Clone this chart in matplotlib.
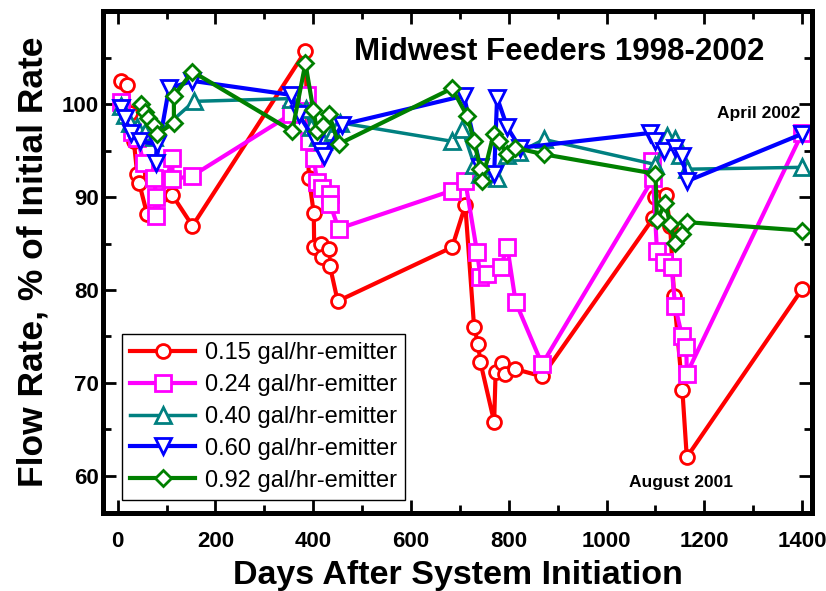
import matplotlib
matplotlib.use('Agg')
import matplotlib.pyplot as plt
from matplotlib.ticker import MultipleLocator

plt.rcParams['font.family'] = ['Liberation Sans', 'DejaVu Sans']

# days after initiation and flow rate (% of initial) for each emitter size
red_x = [6, 20, 25, 33, 40, 44, 60, 112, 153, 384, 391, 401, 402, 415, 418, 432, 434, 450,
         684, 711, 729, 737, 742, 770, 773, 787, 793, 812, 868, 1095, 1100, 1121, 1130, 1138, 1155, 1164, 1400]
red_y = [102.5, 102.1, 99.0, 96.0, 92.5, 91.5, 88.2, 90.2, 86.9, 105.7, 92.1, 88.3, 84.6, 85.0, 83.5, 84.4, 82.6, 78.8,
         84.6, 89.1, 76.0, 74.2, 72.2, 65.8, 71.2, 72.1, 71.0, 71.5, 70.7, 87.7, 90.0, 90.2, 86.9, 79.3, 69.2, 62.0, 80.1]

mag_x = [6, 30, 40, 53, 75, 78, 78, 112, 112, 153, 354, 388, 391, 401, 408, 418, 434, 434, 452,
         684, 711, 735, 742, 755, 783, 797, 814, 868, 1095, 1093, 1103, 1117, 1133, 1140, 1154, 1163, 1164, 1400]
mag_y = [100.2, 97.0, 96.4, 93.7, 92.1, 90.0, 88.0, 94.2, 91.9, 92.3, 98.9, 101.0, 96.0, 94.2, 91.6, 91.0, 90.3, 89.3, 86.6,
         90.7, 91.7, 84.1, 81.4, 81.7, 82.5, 84.6, 78.7, 72.0, 92.0, 93.9, 84.2, 83.0, 82.5, 78.3, 75.1, 73.9, 71.0, 96.9]

teal_x = [6, 15, 25, 40, 55, 75, 156, 354, 385, 395, 410, 420, 440, 455,
          684, 705, 729, 742, 770, 776, 797, 820, 872, 1100, 1124, 1140, 1150, 1165, 1400]
teal_y = [99.8, 98.8, 98.0, 97.5, 97.0, 96.5, 100.3, 100.6, 99.5, 97.5, 96.5, 96.0, 97.0, 98.0,
          96.0, 97.3, 93.5, 92.5, 92.5, 92.0, 94.5, 94.8, 96.2, 93.5, 96.6, 96.3, 94.5, 93.0, 93.2]

blue_x = [6, 15, 27, 45, 80, 78, 105, 153, 354, 370, 405, 415, 422, 459,
          708, 742, 770, 776, 797, 823, 1089, 1100, 1117, 1140, 1155, 1164, 1400]
blue_y = [99.6, 98.5, 96.9, 96.0, 95.7, 93.7, 101.7, 102.5, 101.0, 98.9, 96.0, 95.0, 94.4, 97.8,
          100.9, 93.2, 92.5, 100.7, 97.5, 95.3, 96.9, 96.0, 95.0, 95.3, 94.4, 91.7, 96.8]

green_x = [47, 55, 62, 75, 81, 115, 115, 153, 357, 384, 400, 408, 420, 432, 452,
           684, 715, 729, 742, 745, 769, 780, 797, 813, 872, 1100, 1103, 1120, 1130, 1140, 1155, 1164, 1400]
green_y = [100.0, 99.2, 98.5, 97.8, 96.8, 98.0, 100.9, 103.5, 97.1, 104.4, 99.4, 97.1, 97.8, 98.9, 95.7,
           101.7, 98.7, 96.0, 93.0, 91.7, 96.8, 96.0, 94.6, 95.3, 94.6, 92.5, 87.5, 89.4, 87.1, 85.1, 86.0, 87.3, 86.4]

labels = ['0.15 gal/hr-emitter', '0.24 gal/hr-emitter', '0.40 gal/hr-emitter',
          '0.60 gal/hr-emitter', '0.92 gal/hr-emitter']

fig = plt.figure(figsize=(8.26, 5.91), dpi=100)
ax = fig.add_axes([0.1247, 0.132, 0.8583, 0.849])

ax.plot(red_x, red_y, color='#ff0000', lw=3, marker='o', ms=10, mew=2, mfc='white', label=labels[0])
ax.plot(mag_x, mag_y, color='#ff00ff', lw=3, marker='s', ms=11, mew=2, mfc='white', label=labels[1])
ax.plot(teal_x, teal_y, color='#008080', lw=2.5, marker='^', ms=11, mew=2, mfc='white', label=labels[2])
ax.plot(blue_x, blue_y, color='#0000ff', lw=3, marker='v', ms=11, mew=2, mfc='white', label=labels[3])
ax.plot(green_x, green_y, color='#008000', lw=3, marker='D', ms=8.5, mew=2, mfc='white', label=labels[4])

ax.set_xlim(-30, 1420)
ax.set_ylim(56, 110)
ax.xaxis.set_major_locator(MultipleLocator(200))
ax.xaxis.set_minor_locator(MultipleLocator(100))
ax.yaxis.set_major_locator(MultipleLocator(10))
ax.yaxis.set_minor_locator(MultipleLocator(5))
ax.set_xticks([0, 200, 400, 600, 800, 1000, 1200, 1400])
ax.set_yticks([60, 70, 80, 90, 100])

for s in ax.spines.values():
    s.set_linewidth(3.6)
ax.tick_params(which='both', direction='in', top=True, right=True, width=2)
ax.tick_params(which='major', length=9.5, labelsize=16)
ax.tick_params(axis='x', which='major', pad=13)
ax.tick_params(axis='y', which='major', pad=3)
ax.tick_params(which='minor', length=5.5)
for t in ax.get_xticklabels() + ax.get_yticklabels():
    t.set_fontweight('bold')

ax.set_xlabel('Days After System Initiation', fontsize=24.5, fontweight='bold', labelpad=6)
ax.set_ylabel('Flow Rate, % of Initial Rate', fontsize=25.5, fontweight='bold', labelpad=9)

ax.text(902, 105.6, 'Midwest Feeders 1998-2002', fontsize=22.5, fontweight='bold', ha='center', va='center')
ax.text(1312, 99.0, 'April 2002', fontsize=12.5, fontweight='bold', ha='center', va='center')
ax.text(1153, 59.3, 'August 2001', fontsize=12.5, fontweight='bold', ha='center', va='center')

leg = ax.legend(loc='lower left', bbox_to_anchor=(0.027, 0.026), borderaxespad=0, fontsize=17,
                handlelength=2.75, handletextpad=0.4, labelspacing=0.42, borderpad=0.35,
                fancybox=False, framealpha=1, edgecolor='black')
leg.get_frame().set_linewidth(1)

fig.savefig('out.png', dpi=100)
